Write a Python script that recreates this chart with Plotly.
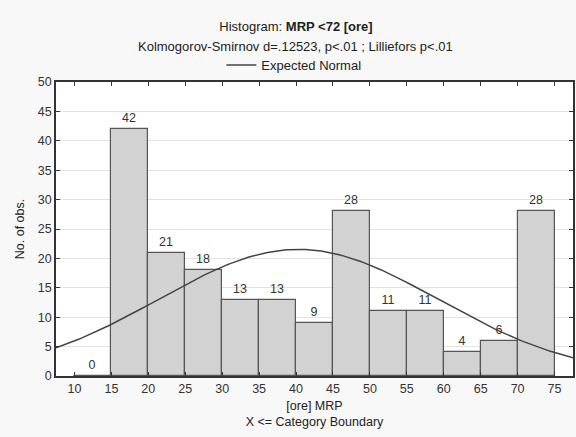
import numpy as np
import plotly.graph_objects as go

# Data
bin_upper = [15, 20, 25, 30, 35, 40, 45, 50, 55, 60, 65, 70, 75]
counts = [0, 42, 21, 18, 13, 13, 9, 28, 11, 11, 4, 6, 28]
bin_width = 5
x_ticks = [10, 15, 20, 25, 30, 35, 40, 45, 50, 55, 60, 65, 70, 75]
y_ticks = [0, 5, 10, 15, 20, 25, 30, 35, 40, 45, 50]

# Expected normal parameters (estimated)
norm_mean = 40.3
norm_sd = 18.9
n_obs = sum(counts)

xs = np.linspace(7.5, 77.5, 200)
ys = n_obs * bin_width * np.exp(-0.5 * ((xs - norm_mean) / norm_sd) ** 2) / (norm_sd * np.sqrt(2 * np.pi))

font = "Liberation Sans, Arial, sans-serif"
W, H = 576, 437
ML, MR, MT, MB = 56, 1, 82, 61
PW = W - ML - MR
PH = H - MT - MB

fig = go.Figure()
fig.add_trace(go.Bar(
    x=bin_upper, y=counts, offset=-bin_width, width=bin_width,
    marker=dict(color="#d2d2d2", line=dict(color="#555555", width=1.2)),
    text=[str(c) for c in counts], textposition="outside",
    textfont=dict(size=12.5, color="#333333", family=font),
    cliponaxis=False, showlegend=False,
))
fig.add_trace(go.Scatter(
    x=xs, y=ys, mode="lines", name="Expected Normal",
    line=dict(color="#444444", width=1.5), showlegend=True,
))

fig.update_layout(
    width=W, height=H,
    margin=dict(l=ML, r=MR, t=MT, b=MB),
    paper_bgcolor="#f8f8f8", plot_bgcolor="#ffffff",
    font=dict(family=font, size=12.5, color="#333333"),
    title=dict(text="Histogram: <b>MRP &lt;72 [ore]</b>", x=296 / W, xanchor="center",
               y=1 - 26 / H, yanchor="middle", font=dict(size=13, color="#222222")),
    legend=dict(orientation="h", x=(222 - ML) / PW, xanchor="left", y=1 + (MT - 65) / PH,
                yanchor="middle",
                bgcolor="rgba(0,0,0,0)", font=dict(size=13, color="#222222"),
                itemwidth=30),
    bargap=0,
    showlegend=True,
)
fig.add_annotation(
    text="Kolmogorov-Smirnov d=.12523, p&lt;.01 ; Lilliefors p&lt;.01",
    xref="paper", yref="paper", x=(296 - ML) / PW, y=1 + (MT - 46) / PH,
    xanchor="center", yanchor="middle", showarrow=False,
    font=dict(size=13, color="#222222"),
)
fig.update_xaxes(
    range=[7.5, 77.5], tickvals=x_ticks, ticktext=[str(t) for t in x_ticks],
    showgrid=False, zeroline=False,
    showline=True, linecolor="#333333", linewidth=1.5, mirror="ticks",
    ticks="inside", ticklen=4, tickcolor="#333333",
    title=dict(text="[ore] MRP<br>X &lt;= Category Boundary", standoff=6,
               font=dict(size=12.5, color="#222222")),
    tickfont=dict(size=12.5, color="#333333"),
)
fig.update_yaxes(
    range=[0, 50], tickvals=y_ticks,
    showgrid=True, gridcolor="#e3e3e3", gridwidth=1, zeroline=False,
    showline=True, linecolor="#333333", linewidth=1.5, mirror="ticks",
    ticks="inside", ticklen=4, tickcolor="#333333",
    title=dict(text="No. of obs.", standoff=10, font=dict(size=12.5, color="#222222")),
    tickfont=dict(size=12.5, color="#333333"),
)

fig.write_html("out.html")
